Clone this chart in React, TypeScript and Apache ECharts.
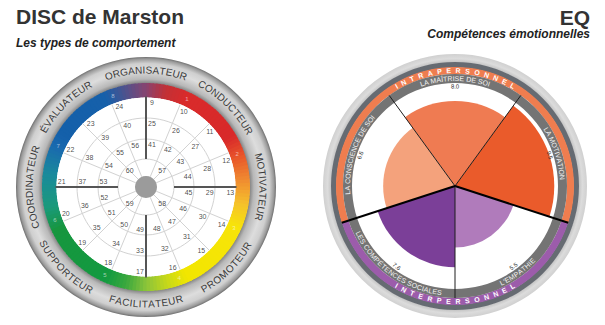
import React, { useEffect, useRef } from 'react';
import * as echarts from 'echarts';

// ---------------- DATA ----------------
const DISC_TYPES = ['ORGANISATEUR', 'CONDUCTEUR', 'MOTIVATEUR', 'PROMOTEUR', 'FACILITATEUR', 'SUPPORTEUR', 'COORDINATEUR', 'ÉVALUATEUR'];
const DISC_TYPE_ANGLES = [0, 45, 90, 135, 180, 225, 270, 315];
const DISC_SEGMENT_NUMBERS = ['1', '2', '3', '4', '5', '6', '7', '8'];
const DISC_SEGMENT_ANGLES = [25, 70, 115, 160, 205, 250, 295, 340];
const DISC_RING_1 = [9, 10, 11, 12, 13, 14, 15, 16, 17, 18, 19, 20, 21, 22, 23, 24];
const DISC_RING_2 = [25, 26, 27, 28, 29, 30, 31, 32, 33, 34, 35, 36, 37, 38, 39, 40];
const DISC_RING_3 = [41, 42, 43, 44, 45, 46, 47, 48, 49, 50, 51, 52, 53, 54, 55, 56];
const DISC_RING_4 = [57, 58, 59, 60];
const DISC_RING_EDGES = [11, 28, 48, 69, 89.5];

const EQ_CATEGORIES = ['LA MAÎTRISE DE SOI', 'LA MOTIVATION', "L'EMPATHIE", 'LES COMPÉTENCES SOCIALES', 'LA CONSCIENCE DE SOI'];
const EQ_VALUES = [8.0, 9.5, 5.5, 7.6, 6.6];
const EQ_COLORS = ['#ef7b52', '#ea5b2b', '#b07bbb', '#7b3f98', '#f4a27c'];
const EQ_GROUPS = ['INTRAPERSONNEL', 'INTERPERSONNEL'];
const EQ_GROUP_START = [4, 2];
const EQ_GROUP_COUNT = [3, 2];
const EQ_GROUP_COLORS = ['#ef7d4f', '#9c5cab'];

// colour wheel stops (angle clockwise from top, colour)
const RING_STOPS: [number, string][] = [
  [0, '#874470'], [12, '#c23036'], [24, '#d92b2b'], [60, '#d8292a'], [72, '#e8552a'],
  [86, '#f08a30'], [100, '#f5c02c'], [114, '#f7e40a'], [156, '#f2e600'], [168, '#c6d81a'],
  [180, '#8cc43a'], [192, '#3aa83e'], [204, '#139a40'], [245, '#17963f'], [258, '#1a9a7a'],
  [278, '#1a8a9c'], [294, '#1a6aae'], [302, '#1460aa'], [336, '#1660aa'], [360, '#874470'],
];

// ---------------- HELPERS ----------------
const FONT = '"Liberation Sans", Arial, Helvetica, sans-serif';
const DISC_C = [146, 187];
const EQ_C = [455, 186];
const RAD = Math.PI / 180;

let measureCtx: CanvasRenderingContext2D | null = null;
function textWidth(s: string, font: string) {
  if (!measureCtx) measureCtx = document.createElement('canvas').getContext('2d');
  if (!measureCtx) return s.length * 6;
  measureCtx.font = font;
  return measureCtx.measureText(s).width;
}

function arcText(cx: number, cy: number, r: number, centerDeg: number, text: string, font: string, fill: string, spacing: number, z: number) {
  const norm = ((centerDeg % 360) + 360) % 360;
  const inward = norm > 100 && norm < 260;
  const chars = Array.from(text);
  const widths = chars.map((c) => textWidth(c, font));
  const total = widths.reduce((a, b) => a + b, 0) + spacing * (chars.length - 1);
  const span = total / r;
  const c0 = centerDeg * RAD;
  let acc = 0;
  return chars.map((ch, i) => {
    const mid = acc + widths[i] / 2;
    acc += widths[i] + spacing;
    const a = inward ? c0 + span / 2 - mid / r : c0 - span / 2 + mid / r;
    return {
      type: 'text', z, silent: true,
      x: cx + r * Math.sin(a), y: cy - r * Math.cos(a),
      rotation: inward ? Math.PI - a : -a,
      style: { text: ch, font, fill, align: 'center', verticalAlign: 'middle' },
    };
  });
}

function sector(cx: number, cy: number, r0: number, r: number, a0: number, a1: number, fill: string, z: number) {
  return {
    type: 'sector', z, silent: true,
    shape: { cx, cy, r0, r, startAngle: (a0 - 90) * RAD, endAngle: (a1 - 90) * RAD, clockwise: true },
    style: { fill },
  };
}

function radial(cx: number, cy: number, r0: number, r1: number, deg: number, stroke: string, lineWidth: number, z: number) {
  const a = deg * RAD;
  return {
    type: 'line', z, silent: true,
    shape: { x1: cx + r0 * Math.sin(a), y1: cy - r0 * Math.cos(a), x2: cx + r1 * Math.sin(a), y2: cy - r1 * Math.cos(a) },
    style: { stroke, lineWidth },
  };
}

function hexToRgb(h: string) {
  return [parseInt(h.slice(1, 3), 16), parseInt(h.slice(3, 5), 16), parseInt(h.slice(5, 7), 16)];
}
function ringColor(a: number) {
  for (let i = 0; i < RING_STOPS.length - 1; i++) {
    const [a0, c0] = RING_STOPS[i];
    const [a1, c1] = RING_STOPS[i + 1];
    if (a >= a0 && a <= a1) {
      const t = (a - a0) / (a1 - a0);
      const p = hexToRgb(c0), q = hexToRgb(c1);
      const m = p.map((v, k) => Math.round(v + (q[k] - v) * t));
      return `rgb(${m[0]},${m[1]},${m[2]})`;
    }
  }
  return RING_STOPS[0][1];
}

function buildGraphics() {
  const g: any[] = [];
  const [dx, dy] = DISC_C;
  // titles
  g.push({ type: 'text', x: 16, y: 16.5, z: 10, style: { text: 'DISC de Marston', font: `bold 21px ${FONT}`, fill: '#333', align: 'left', verticalAlign: 'middle' } });
  g.push({ type: 'text', x: 16, y: 42.5, z: 10, style: { text: 'Les types de comportement', font: `italic bold 12px ${FONT}`, fill: '#222', align: 'left', verticalAlign: 'middle' } });
  g.push({ type: 'text', x: 590, y: 17, z: 10, style: { text: 'EQ', font: `bold 21px ${FONT}`, fill: '#333', align: 'right', verticalAlign: 'middle' } });
  g.push({ type: 'text', x: 590, y: 34, z: 10, style: { text: 'Compétences émotionnelles', font: `italic bold 12px ${FONT}`, fill: '#222', align: 'right', verticalAlign: 'middle' } });

  // ---- DISC wheel ----
  g.push({
    type: 'ring', z: 0, silent: true, shape: { cx: dx, cy: dy, r0: 103.5, r: 130 },
    style: {
      fill: new echarts.graphic.RadialGradient(0.5, 0.5, 0.5, [
        { offset: 0.795, color: '#7e7e7e' }, { offset: 0.83, color: '#b8b8b8' },
        { offset: 0.9, color: '#dddddd' }, { offset: 0.95, color: '#cfcfcf' },
        { offset: 0.985, color: '#9a9a9a' }, { offset: 1, color: '#6e6e6e' },
      ]),
    },
  });
  const STEP = 2;
  for (let a = 0; a < 360; a += STEP) {
    g.push(sector(dx, dy, 89.5, 104, a - 0.3, a + STEP + 0.3, ringColor(a + STEP / 2), 1));
  }
  g.push({ type: 'circle', z: 1, silent: true, shape: { cx: dx, cy: dy, r: 89.5 }, style: { fill: '#ffffff' } });
  for (let i = 1; i < DISC_RING_EDGES.length - 1; i++) {
    g.push({ type: 'circle', z: 2, silent: true, shape: { cx: dx, cy: dy, r: DISC_RING_EDGES[i] }, style: { fill: 'none', stroke: '#d2d2d2', lineWidth: 1 } });
  }
  for (let k = 0; k < 16; k++) {
    if (k % 4 !== 0) g.push(radial(dx, dy, DISC_RING_EDGES[0], DISC_RING_EDGES[4], k * 22.5, '#d2d2d2', 1, 2));
  }
  for (let k = 0; k < 4; k++) g.push(radial(dx, dy, DISC_RING_EDGES[1], DISC_RING_EDGES[4] + 1, k * 90, '#555555', 2, 3));
  g.push({ type: 'circle', z: 3, silent: true, shape: { cx: dx, cy: dy, r: DISC_RING_EDGES[0] }, style: { fill: '#9b9b9b' } });
  DISC_TYPES.forEach((t, i) => {
    g.push(...arcText(dx, dy, 117, DISC_TYPE_ANGLES[i], t, `10px ${FONT}`, '#3a3a3a', 0.3, 5));
  });

  // ---- EQ wheel ----
  const [ex, ey] = EQ_C;
  g.push({
    type: 'ring', z: 0, silent: true, shape: { cx: ex, cy: ey, r0: 123.5, r: 132 },
    style: {
      fill: new echarts.graphic.RadialGradient(0.5, 0.5, 0.5, [
        { offset: 0.93, color: '#bdbdbd' }, { offset: 0.965, color: '#dcdcdc' }, { offset: 1, color: '#d0d0d0' },
      ]),
    },
  });
  g.push({ type: 'ring', z: 0, silent: true, shape: { cx: ex, cy: ey, r0: 118.5, r: 124 }, style: { fill: '#666b72' } });
  const catStep = 360 / EQ_CATEGORIES.length;
  const catStart = (i: number) => -catStep / 2 + catStep * i;
  EQ_GROUPS.forEach((name, gi) => {
    const a0 = catStart(EQ_GROUP_START[gi]);
    const a1 = a0 + catStep * EQ_GROUP_COUNT[gi];
    g.push(sector(ex, ey, 112, 119, a0, a1, EQ_GROUP_COLORS[gi], 0));
    g.push(...arcText(ex, ey, 115.5, (a0 + a1) / 2, name, `bold 7px ${FONT}`, '#ffffff', 4.6, 6));
  });
  g.push({ type: 'ring', z: 0, silent: true, shape: { cx: ex, cy: ey, r0: 103, r: 112 }, style: { fill: '#747474' } });
  const groupOf = (i: number) => {
    for (let gi = 0; gi < EQ_GROUPS.length; gi++) {
      for (let k = 0; k < EQ_GROUP_COUNT[gi]; k++) if ((EQ_GROUP_START[gi] + k) % EQ_CATEGORIES.length === i) return gi;
    }
    return 0;
  };
  EQ_CATEGORIES.forEach((_, i) => {
    const prev = (i + EQ_CATEGORIES.length - 1) % EQ_CATEGORIES.length;
    const thick = groupOf(i) !== groupOf(prev);
    g.push(radial(ex, ey, 0, thick ? 119 : 112, catStart(i), thick ? '#000' : '#1e1e1e', thick ? 2 : 1, 5));
  });
  EQ_CATEGORIES.forEach((name, i) => {
    const c = catStart(i) + catStep / 2;
    g.push(...arcText(ex, ey, 107.5, c, name, `7px ${FONT}`, '#f4f4f4', 0.1, 6));
    g.push(...arcText(ex, ey, 99.5, c, EQ_VALUES[i].toFixed(1), `6px ${FONT}`, '#333', 0, 6));
  });
  return g;
}

function polarTextSeries(data: any[], font: string, fill: string) {
  return {
    type: 'custom', coordinateSystem: 'polar', polarIndex: 0, z: 10, silent: true,
    data,
    renderItem: (params: any, api: any) => {
      const p = api.coord([api.value(0), api.value(1)]);
      return {
        type: 'text', x: p[0], y: p[1],
        style: { text: String(data[params.dataIndex][2]), font, fill, opacity: 0.98, align: 'center', verticalAlign: 'middle' },
      };
    },
  };
}

function buildOption() {
  const rings = [DISC_RING_1, DISC_RING_2, DISC_RING_3, DISC_RING_4];
  const cellData: any[] = [];
  rings.forEach((ring, j) => {
    const outer = DISC_RING_EDGES[DISC_RING_EDGES.length - 1 - j];
    const labelR = outer - 5;
    const step = 360 / ring.length;
    ring.forEach((n, k) => {
      const ang = ring.length === 16 ? k * step + (6 / labelR) / RAD : k * step + step / 2;
      cellData.push([labelR, ang, n]);
    });
  });
  const segData = DISC_SEGMENT_NUMBERS.map((n, i) => [97, DISC_SEGMENT_ANGLES[i], n]);

  return {
    animation: false,
    polar: [
      { center: DISC_C, radius: [0, 130] },
      { center: EQ_C, radius: [0, 104] },
    ],
    angleAxis: [
      { polarIndex: 0, type: 'value', min: 0, max: 360, startAngle: 90, clockwise: true, show: false },
      { polarIndex: 1, type: 'category', data: EQ_CATEGORIES, startAngle: 90 + 180 / EQ_CATEGORIES.length, clockwise: true, boundaryGap: true, show: false },
    ],
    radiusAxis: [
      { polarIndex: 0, type: 'value', min: 0, max: 130, show: false },
      { polarIndex: 1, type: 'value', min: -1, max: 10, startValue: -1, show: false },
    ],
    series: [
      {
        type: 'bar', coordinateSystem: 'polar', polarIndex: 1, z: 2, silent: true,
        barCategoryGap: '0%',
        data: EQ_VALUES.map((v, i) => ({ value: v, itemStyle: { color: EQ_COLORS[i] } })),
      },
      polarTextSeries(cellData, `7px ${FONT}`, '#4a4a4a'),
      polarTextSeries(segData, `6px ${FONT}`, 'rgba(255,255,255,0.6)'),
    ],
    graphic: { elements: buildGraphics() },
  };
}

export default function App() {
  const ref = useRef<HTMLDivElement>(null);
  useEffect(() => {
    if (!ref.current) return;
    const chart = echarts.init(ref.current, null, { renderer: 'svg' });
    chart.setOption(buildOption() as any);
    return () => chart.dispose();
  }, []);
  return <div ref={ref} style={{ width: 605, height: 325, position: 'absolute', left: 0, top: 0, background: '#fff' }} />;
}
